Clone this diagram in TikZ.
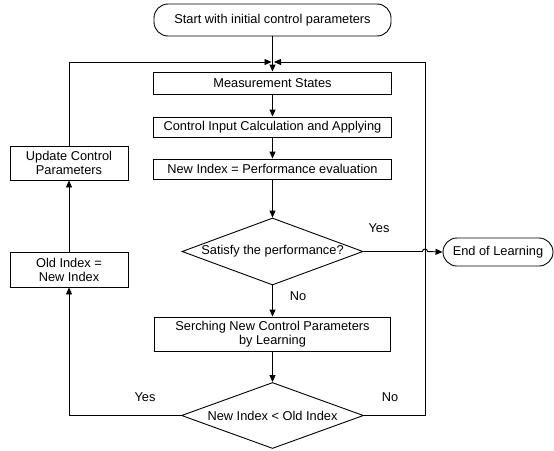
\documentclass[tikz,border=0pt]{standalone}
\usepackage{fontspec}
\setmainfont{Liberation Sans}
\usetikzlibrary{arrows.meta,shapes.geometric}
\begin{document}
\begin{tikzpicture}[x=1pt,y=-1pt,
  every node/.style={font=\fontsize{12.8}{14}\selectfont},
  procbox/.style={draw,line width=0.9pt,rectangle,inner sep=0pt,align=center},
  termbox/.style={draw,line width=0.9pt,rectangle,rounded corners=14pt,inner sep=0pt},
  decide/.style={draw,line width=0.9pt,diamond,aspect=2.7,inner sep=0pt},
  flow/.style={line width=0.9pt,-{Triangle[length=7pt,width=6pt]}},
  lbl/.style={inner sep=0pt}]
\useasboundingbox (0,0) rectangle (554,450);

% terminals
\node[termbox,minimum width=237pt,minimum height=32pt] (start) at (272.5,20) {Start with initial control parameters};
\node[termbox,minimum width=110pt,minimum height=28pt] (finish) at (498,252) {End of Learning};

% main column
\coordinate (jn) at (272.5,62);
\node[procbox,minimum width=238pt,minimum height=22pt] (meas) at (272.5,83) {Measurement States};
\node[procbox,minimum width=238pt,minimum height=20pt] (ctrl) at (272.5,127) {Control Input Calculation and Applying};
\node[procbox,minimum width=238pt,minimum height=20pt] (newidx) at (272.5,169) {New Index = Performance evaluation};
\node[decide,minimum width=181pt,minimum height=67pt] (sat) at (272.5,251.5) {Satisfy the performance?};
\node[procbox,minimum width=236pt,minimum height=34pt] (search) at (272.5,334) {Serching New Control Parameters\\by Learning};
\node[decide,minimum width=182pt,minimum height=66pt] (cmp) at (272.5,415.5) {New Index < Old Index};

% left column
\node[procbox,minimum width=118pt,minimum height=35pt] (old) at (69,269.5) {Old Index =\\New Index};
\node[procbox,minimum width=118pt,minimum height=34pt] (upd) at (69,163) {Update Control\\Parameters};

% corner points of the loops
\coordinate (rb) at (425,415.5);
\coordinate (rt) at (425,62);
\coordinate (lb) at (69,415.5);
\coordinate (lt) at (69,62);

% connectors
\draw[flow] (start.south) -- (meas.north);
\draw[flow] (meas) -- (ctrl);
\draw[flow] (ctrl) -- (newidx);
\draw[flow] (newidx) -- (sat.north);
\draw[flow] (sat.south) -- (search.north);
\draw[flow] (search) -- (cmp.north);
\draw[flow,shorten >=1.5pt] (cmp.east) -- (rb) -- (rt) -- (jn);
\draw[flow] (cmp.west) -- (lb) -- (old.south);
\draw[flow] (old) -- (upd);
\draw[flow,shorten >=1pt] (upd.north) -- (lt) -- (jn);
\draw[flow] (sat.east) -- (422.5,251.5) arc[start angle=180,end angle=360,radius=2.5] -- (finish.west);

% branch labels
\node[lbl] (ys) at (379,228) {Yes};
\node[lbl] (ns) at (298,296) {No};
\node[lbl] (yc) at (145,397) {Yes};
\node[lbl] (nc) at (390,397) {No};
\end{tikzpicture}
\end{document}
